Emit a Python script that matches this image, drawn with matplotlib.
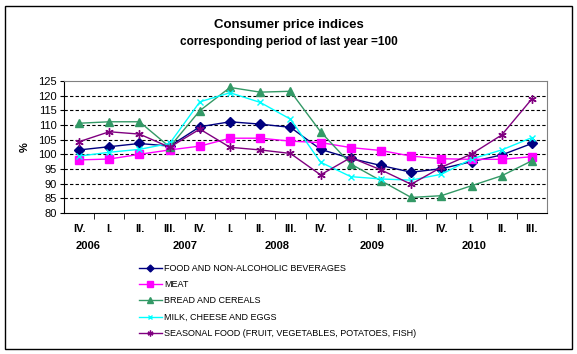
import matplotlib.pyplot as plt
import matplotlib.transforms as mtransforms
from matplotlib.patches import Rectangle
import numpy as np

plt.rcParams['font.family'] = ['Liberation Sans', 'DejaVu Sans']

quarters = ['IV.', 'I.', 'II.', 'III.', 'IV.', 'I.', 'II.', 'III.',
            'IV.', 'I.', 'II.', 'III.', 'IV.', 'I.', 'II.', 'III.']
years = ['2006', '2007', '2008', '2009', '2010']
year_pos = [0.3, 3.5, 6.55, 9.7, 13.1]

food = [101.5, 102.6, 103.7, 102.8, 109.4, 111.1, 110.3, 109.2,
        101.7, 98.6, 96.2, 93.9, 95.1, 97.5, 99.8, 103.7]
meat = [98.1, 98.4, 100.0, 101.5, 102.8, 105.5, 105.5, 104.5,
        104.0, 102.3, 101.3, 99.4, 98.5, 98.3, 98.3, 99.2]
bread = [110.6, 111.1, 111.1, 102.5, 114.9, 122.8, 121.2, 121.5,
         107.7, 96.7, 91.0, 85.3, 85.9, 89.3, 92.7, 97.8]
milk = [99.4, 100.7, 101.7, 103.7, 117.9, 121.0, 117.7, 112.0,
        97.3, 92.4, 91.6, 91.2, 93.2, 98.4, 101.5, 105.7]
seasonal = [104.3, 107.7, 106.9, 102.4, 108.6, 102.4, 101.5, 100.3,
            93.0, 98.9, 94.7, 89.8, 95.6, 100.1, 106.6, 118.9]

series = [
    ('FOOD AND NON-ALCOHOLIC BEVERAGES', food, '#000080', 'D', 5),
    ('MEAT', meat, '#FF00FF', 's', 6),
    ('BREAD AND CEREALS', bread, '#339966', '^', 6),
    ('MILK, CHEESE AND EGGS', milk, '#00FFFF', 'x', 5),
    ('SEASONAL FOOD (FRUIT, VEGETABLES, POTATOES, FISH)', seasonal, '#800080', (6, 2, 0), 6),
]

fig = plt.figure(figsize=(5.77, 3.54), dpi=100)
fig.patches.append(Rectangle((5 / 577, 5 / 354), 567 / 577, 343 / 354,
                             transform=fig.transFigure, fill=False,
                             edgecolor='black', linewidth=1))

ax = fig.add_axes([64 / 577, (354 - 213) / 354, 483 / 577, 132 / 354])
x = np.arange(len(quarters))
handles = []
for name, vals, col, mk, ms in series:
    line, = ax.plot(x, vals, color=col, marker=mk, markersize=ms, linewidth=1,
                    markeredgecolor=col, markeredgewidth=1, label=name)
    handles.append(line)

ax.set_xlim(-0.5, 15.5)
ax.set_ylim(80, 125)
ax.set_yticks(range(80, 126, 5))
ax.tick_params(axis='y', labelsize=8, length=3, direction='out', pad=2)
for yv in range(85, 125, 5):
    ax.axhline(yv, color='black', linestyle=(0, (3, 2)), linewidth=0.8, zorder=0)

ax.set_xticks(x)
ax.set_xticklabels(quarters, fontsize=8, fontweight='bold')
ax.tick_params(axis='x', length=0, pad=8)
ax.set_xticks(np.arange(0.5, 15.5, 1), minor=True)
ax.tick_params(axis='x', which='minor', length=4, direction='out')

trans = mtransforms.blended_transform_factory(ax.transData, ax.transAxes)
for yr, xp in zip(years, year_pos):
    ax.text(xp, -0.25, yr, transform=trans, ha='center', va='center',
            fontsize=8, fontweight='bold')

ax.set_ylabel('%', fontsize=8, fontweight='bold', labelpad=6)
for s in ['top', 'right']:
    ax.spines[s].set_color('#808080')
ax.spines['left'].set_color('black')
ax.spines['bottom'].set_color('black')

fig.text(0.5, 1 - 25 / 354, 'Consumer price indices', ha='center', va='center',
         fontsize=9.5, fontweight='bold')
fig.text(0.5, 1 - 42 / 354, 'corresponding period of last year =100', ha='center',
         va='center', fontsize=8.5, fontweight='bold')

fig.legend(handles=handles, loc='upper left', bbox_to_anchor=(139 / 577, 1 - 264 / 354),
           frameon=False, fontsize=6.5, labelspacing=0.8, handlelength=2.5,
           handletextpad=0.3, borderaxespad=0, borderpad=0, markerscale=0.7)

fig.savefig('out.png', dpi=100)
